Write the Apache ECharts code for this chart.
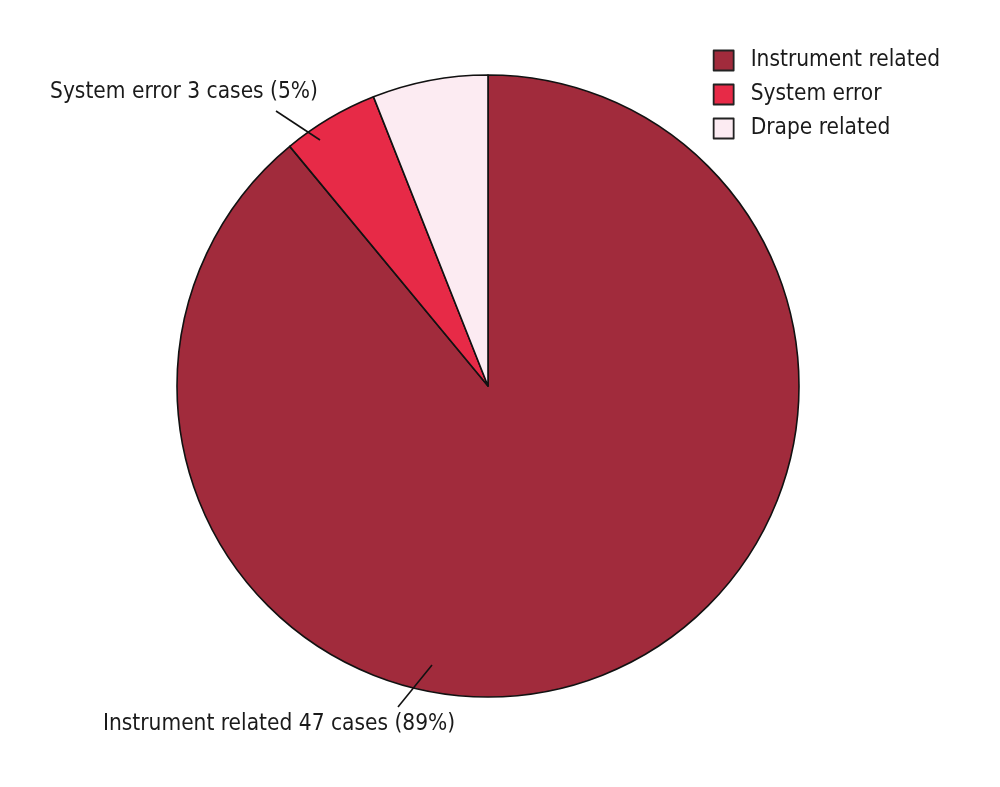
<!DOCTYPE html>
<html>
<head>
<meta charset="utf-8">
<script src="https://cdn.jsdelivr.net/npm/echarts@6/dist/echarts.min.js"></script>
<style>
  html, body { margin: 0; padding: 0; background: #fff; }
  #chart { width: 1000px; height: 787px; }
</style>
</head>
<body>
<div id="chart"></div>
<script>
// 数据
const categories = ['Instrument related', 'System error', 'Drape related']
const cases = [47, 3, 3]
// 扇区按百分比画（原图就是这样）
const percents = [89, 5, 6]
const colors = ['#a12b3c', '#e72a47', '#fcebf2']
// 只有前两项有标签
const showLabel = [true, true, false]

const FONT = '"Liberation Sans Narrow", "DejaVu Sans Condensed", sans-serif'

const chart = echarts.init(document.getElementById('chart'))

let data = []
for (let i = 0; i < categories.length; i++) {
    data.push({
        name: categories[i],
        value: percents[i],
        label: { show: showLabel[i] },
        itemStyle: { color: colors[i] }
    })
}

// 引导线需要画在扇区上面，所以用 graphic 单独画
const guideLine = (points) => ({
    type: 'polyline',
    z: 100,
    shape: { points: points },
    style: { stroke: '#111', lineWidth: 1.6, fill: null }
})

const option = {
    animation: false,
    legend: {
        orient: 'vertical',
        right: 55,
        top: 44,
        itemWidth: 20,
        itemHeight: 20,
        itemGap: 11,
        icon: 'rect',
        itemStyle: { borderColor: '#222', borderWidth: 1.8 },
        textStyle: { fontFamily: FONT, fontSize: 22.5, lineHeight: 20, color: '#1a1a1a', padding: [0, 0, 0, 12] },
        data: categories
    },
    graphic: [
        guideLine([[320, 140], [276, 111]]),
        guideLine([[432, 665], [398, 707]])
    ],
    series: [{
        type: 'pie',
        center: [488, 386],
        radius: 311,
        startAngle: 90,
        clockwise: true,
        avoidLabelOverlap: false,
        itemStyle: { borderColor: '#111', borderWidth: 1.6 },
        label: {
            position: 'outside',
            fontFamily: FONT,
            fontSize: 22.5,
            color: '#1a1a1a',
            formatter: p => p.name + ' ' + cases[p.dataIndex] + ' cases (' + percents[p.dataIndex] + '%)'
        },
        labelLine: { show: false },
        // 标签位置按原图手动摆放
        labelLayout: params => {
            if (params.dataIndex === 1) {
                return { x: 318, y: 92, align: 'right', verticalAlign: 'middle' }
            }
            if (params.dataIndex === 0) {
                return { x: 103, y: 724, align: 'left', verticalAlign: 'middle' }
            }
        },
        data: data
    }]
}

chart.setOption(option)
</script>
</body>
</html>
